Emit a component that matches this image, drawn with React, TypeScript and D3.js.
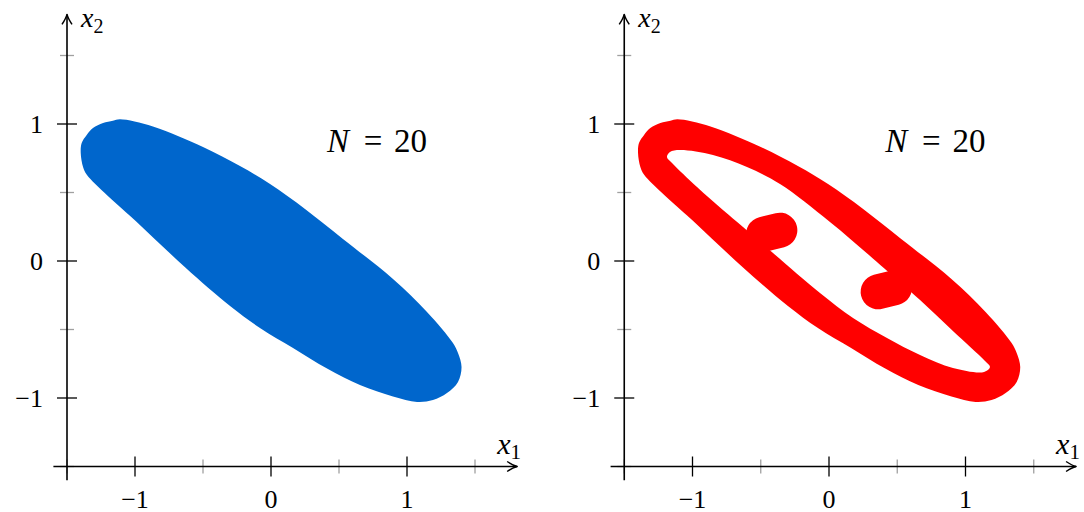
import React from "react";
import * as d3 from "d3";

// Boundary of the feasible region (closed, listed clockwise on screen)
const outerBoundary: [number, number][] = [
  [-1.11, 1.034],
  [-0.868, 0.982],
  [-0.5, 0.832],
  [-0.228, 0.693],
  [-0.007, 0.562],
  [0.25, 0.38],
  [0.529, 0.161],
  [0.897, -0.131],
  [1.147, -0.372],
  [1.338, -0.599],
  [1.375, -0.672],
  [1.401, -0.774],
  [1.375, -0.883],
  [1.294, -0.964],
  [1.191, -1.015],
  [1.074, -1.029],
  [0.897, -0.989],
  [0.654, -0.905],
  [0.412, -0.785],
  [0.162, -0.635],
  [-0.081, -0.489],
  [-0.301, -0.328],
  [-0.632, -0.045],
  [-0.993, 0.29],
  [-1.353, 0.628],
  [-1.382, 0.686],
  [-1.399, 0.788],
  [-1.392, 0.861],
  [-1.355, 0.92],
  [-1.309, 0.971],
  [-1.235, 1.007],
  [-1.162, 1.024],
];

// Interior hole left by the N = 20 sampled set
const innerBoundary: [number, number][] = [
  [-1.092, 0.81],
  [-0.85, 0.774],
  [-0.601, 0.686],
  [-0.359, 0.562],
  [0.007, 0.285],
  [0.41, -0.058],
  [0.667, -0.285],
  [0.908, -0.511],
  [1.143, -0.73],
  [1.179, -0.774],
  [1.136, -0.81],
  [0.908, -0.781],
  [0.667, -0.686],
  [0.425, -0.562],
  [0.176, -0.416],
  [-0.066, -0.234],
  [-0.41, 0.058],
  [-0.63, 0.248],
  [-0.777, 0.372],
  [-0.967, 0.54],
  [-1.15, 0.715],
  [-1.187, 0.759],
  [-1.165, 0.796],
];

// Two small lobes attached to the band
const lobes: [number, number][][] = [
  [
    [-0.48, 0.195],
    [-0.36, 0.225],
  ],
  [
    [0.36, -0.225],
    [0.48, -0.195],
  ],
];

const majorTicks = [-1, 0, 1];
const majorTickLabels = ["\u22121", "0", "1"];
const minorTicks = [-1.5, -0.5, 0.5, 1.5];
const axisExtentX: [number, number] = [-1.6, 1.81];
const axisExtentY: [number, number] = [-1.6, 1.8];
const sampleLabel = "20";

const BLUE = "#0066cc";
const RED = "#ff0000";
const SERIF = "Liberation Serif";

type PanelProps = { cx: number; ux: number; kind: "fill" | "band" };

function Arrow({ x, y, dir }: { x: number; y: number; dir: "right" | "up" }) {
  const d =
    dir === "right"
      ? `M${x - 10},${y - 5} Q${x - 4},${y - 1} ${x},${y} Q${x - 4},${y + 1} ${x - 10},${y + 5}`
      : `M${x - 5},${y + 10} Q${x - 1},${y + 4} ${x},${y} Q${x + 1},${y + 4} ${x + 5},${y + 10}`;
  return <path d={d} fill="none" stroke="#000" strokeWidth={1.5} strokeLinejoin="round" />;
}

function Panel({ cx, ux, kind }: PanelProps) {
  const cy = 261;
  const uy = 137;
  const x = d3.scaleLinear().domain([0, 1]).range([cx, cx + ux]);
  const y = d3.scaleLinear().domain([0, 1]).range([cy, cy - uy]);

  const closed = d3
    .line<[number, number]>()
    .x((d) => x(d[0]))
    .y((d) => y(d[1]))
    .curve(d3.curveCatmullRomClosed.alpha(0.5));
  const open = d3
    .line<[number, number]>()
    .x((d) => x(d[0]))
    .y((d) => y(d[1]));

  const axX = x(-1.5);
  const axY = y(-1.5);

  return (
    <g>
      {kind === "fill" ? (
        <path d={closed(outerBoundary) ?? ""} fill={BLUE} />
      ) : (
        <g>
          <path
            d={(closed(outerBoundary) ?? "") + (closed(innerBoundary) ?? "")}
            fill={RED}
            fillRule="evenodd"
          />
          {lobes.map((seg, i) => (
            <path
              key={i}
              d={open(seg) ?? ""}
              fill="none"
              stroke={RED}
              strokeWidth={35}
              strokeLinecap="round"
            />
          ))}
        </g>
      )}

      {/* minor ticks */}
      {minorTicks.map((t) => (
        <g key={"mx" + t} stroke="#a0a0a0" strokeWidth={1.3}>
          <line x1={x(t)} x2={x(t)} y1={axY - 7} y2={axY + 7} />
          <line x1={axX - 7} x2={axX + 7} y1={y(t)} y2={y(t)} />
        </g>
      ))}

      {/* axis lines */}
      <line x1={x(axisExtentX[0])} x2={x(axisExtentX[1])} y1={axY} y2={axY} stroke="#000" strokeWidth={1.6} />
      <line x1={axX} x2={axX} y1={y(axisExtentY[0])} y2={y(axisExtentY[1])} stroke="#000" strokeWidth={1.6} />
      <Arrow x={x(axisExtentX[1])} y={axY} dir="right" />
      <Arrow x={axX} y={y(axisExtentY[1])} dir="up" />

      {/* major ticks and labels */}
      {majorTicks.map((t, i) => (
        <g key={"M" + t}>
          <line x1={x(t)} x2={x(t)} y1={axY - 10} y2={axY + 10} stroke="#000" strokeWidth={1.3} />
          <line x1={axX - 10} x2={axX + 10} y1={y(t)} y2={y(t)} stroke="#000" strokeWidth={1.3} />
          <text x={x(t)} y={axY + 41} textAnchor="middle" fontFamily={SERIF} fontSize={26}>
            {majorTickLabels[i]}
          </text>
          <text x={axX - 24} y={y(t) + 9} textAnchor="end" fontFamily={SERIF} fontSize={26}>
            {majorTickLabels[i]}
          </text>
        </g>
      ))}

      {/* axis labels */}
      <text x={x(axisExtentX[1]) - 20} y={axY - 13} fontFamily={SERIF} fontSize={30}>
        <tspan fontStyle="italic">x</tspan>
        <tspan fontSize={21} dy={5}>1</tspan>
      </text>
      <text x={axX + 14} y={27} fontFamily={SERIF} fontSize={28}>
        <tspan fontStyle="italic">x</tspan>
        <tspan fontSize={20} dy={6}>2</tspan>
      </text>

      {/* sample-size annotation */}
      <g fontFamily={SERIF} fontSize={33}>
        <text x={x(0.412)} y={y(0.796)} fontStyle="italic">N</text>
        <text x={x(0.75)} y={y(0.796)} textAnchor="middle">=</text>
        <text x={x(1.147)} y={y(0.796)} textAnchor="end">{sampleLabel}</text>
      </g>
    </g>
  );
}

export default function App() {
  return (
    <svg
      width={1084}
      height={512}
      viewBox="0 0 1084 512"
      style={{ position: "absolute", left: 0, top: 0, background: "#fff" }}
    >
      <rect width={1084} height={512} fill="#fff" />
      <Panel cx={271} ux={136} kind="fill" />
      <Panel cx={829} ux={136.5} kind="band" />
    </svg>
  );
}
